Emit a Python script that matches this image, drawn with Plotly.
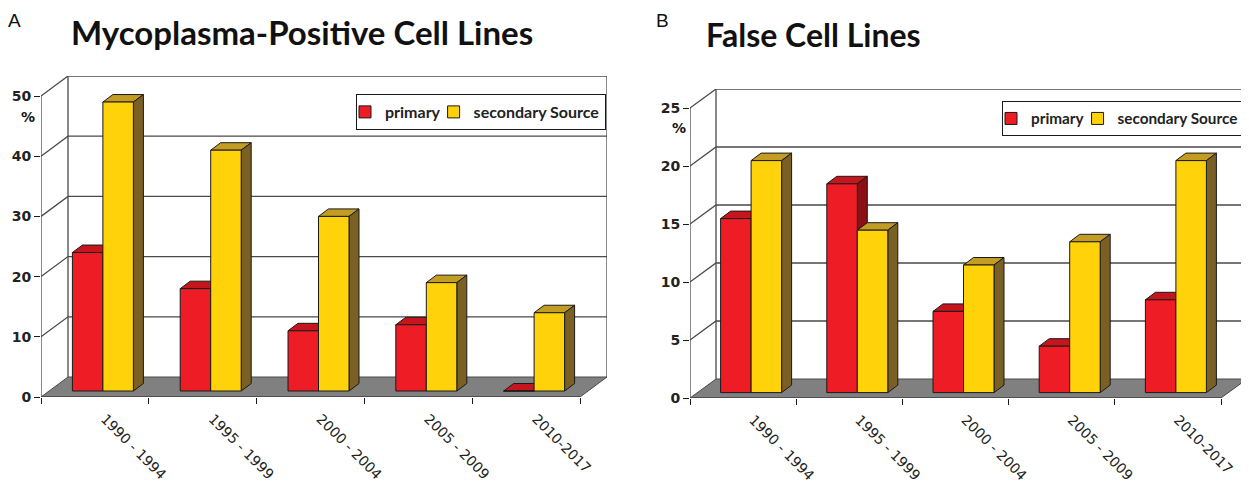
import plotly.graph_objects as go

# The page body has an 8 px margin, so all pixel positions are relative to that corner.
OFF = 8
W, H = 1249 - OFF, 487 - OFF
categories = ["1990 - 1994", "1995 - 1999", "2000 - 2004", "2005 - 2009", "2010-2017"]
a_primary = [23, 17, 10, 11, 0]
a_secondary = [48, 40, 29, 18, 13]
b_primary = [15, 18, 7, 4, 8]
b_secondary = [20, 14, 11, 13, 20]
a_ticks = [0, 10, 20, 30, 40, 50]
b_ticks = [0, 5, 10, 15, 20, 25]

RED, RED_TOP, RED_SIDE = "#ee1c25", "#c4161c", "#8a1015"
YEL, YEL_TOP, YEL_SIDE = "#ffd20a", "#c39c23", "#7b6024"
EDGE = "#1a1a1a"
GRID = "#4a4a4a"
TXT = "#222222"

fig = go.Figure()


def poly(xs, ys, color, xa, ya, z, line=EDGE, width=1):
    fig.add_trace(go.Scatter(x=xs, y=ys, mode="lines", fill="toself", fillcolor=color,
                             line=dict(color=line, width=width), xaxis=xa, yaxis=ya,
                             hoverinfo="skip", showlegend=False, zorder=z))


def segs(xs, ys, color, xa, ya, z, width=1.3):
    fig.add_trace(go.Scatter(x=xs, y=ys, mode="lines", line=dict(color=color, width=width),
                             xaxis=xa, yaxis=ya, hoverinfo="skip", showlegend=False, zorder=z))


def panel(primary, secondary, ticks, xa, ya, legend, px):
    n = len(categories)
    x0, xb, xr, ytop, y0 = px["x0"], px["xb"], px["xr"], px["ytop"], px["y0"]
    unit_x = (px["xf"] - x0) / n
    top_tick = ticks[-1]
    unit_y = (y0 - px["ytick"]) / top_tick
    dx = (xb - x0) / unit_x
    dy = (y0 - px["yfloor"]) / unit_y
    bw = px["bw"] / unit_x
    bx = px["bx"] / unit_x
    base = px["base"] / unit_y
    ddx = 10 / unit_x
    ddy = 7.5 / unit_y
    fig.layout[xa.replace("x", "xaxis")] = dict(
        domain=[(x0 - OFF) / W, (xr - OFF) / W], range=[0, (xr - x0) / unit_x], anchor=ya,
        showgrid=False, zeroline=False, showline=False, tickmode="array", automargin=False,
        tickvals=[i + 0.5 + 10 / unit_x for i in range(n)], ticktext=categories, tickangle=45,
        ticks="", ticklabelstandoff=10, tickfont=dict(family="DejaVu Sans", size=14, color=TXT),
        minor=dict(tickmode="array", tickvals=list(range(n + 1)), ticks="outside", ticklen=6,
                   tickcolor=EDGE, tickwidth=1.3, showgrid=False))
    fig.layout[ya.replace("y", "yaxis")] = dict(
        domain=[1 - (y0 - OFF) / H, 1 - (ytop - OFF) / H], range=[0, (y0 - ytop) / unit_y], anchor=xa,
        showgrid=False, zeroline=False, showline=False, tickmode="array", tickvals=ticks,
        ticks="outside", ticklen=6, tickwidth=1.3, tickcolor=EDGE, automargin=False,
        tickfont=dict(family="DejaVu Sans", size=14, color=TXT, weight="bold"))

    # floor, walls and gridlines
    poly([0, n, n + dx, dx, 0], [0, 0, dy, dy, 0], "#808080", xa, ya, 0, line=GRID)
    gx, gy = [], []
    for t in ticks[1:]:
        gx += [0, dx, n + dx, None]
        gy += [t, t + dy, t + dy, None]
    gx += [dx, dx, None, n + dx, n + dx, None, 0, 0, None, 0, n]
    gy += [dy, top_tick + dy, None, dy, top_tick + dy, None, 0, top_tick, None, 0, 0]
    segs(gx, gy, GRID, xa, ya, 0)

    # bars: the 3D top and side faces follow the same values as the front faces
    for values, left, colors, z, name in (
        (primary, -bw, (RED, RED_TOP, RED_SIDE), 1, "primary"),
        (secondary, 0, (YEL, YEL_TOP, YEL_SIDE), 3, "secondary Source"),
    ):
        for i, v in enumerate(values):
            xl = i + 0.5 + bx + left
            xh = xl + bw
            yt = v + base
            poly([xl, xh, xh + ddx, xl + ddx, xl], [yt, yt, yt + ddy, yt + ddy, yt], colors[1], xa, ya, z)
            poly([xh, xh + ddx, xh + ddx, xh, xh], [base, base + ddy, yt + ddy, yt, base], colors[2], xa, ya, z)
        fig.add_trace(go.Bar(
            x=[i + 0.5 + bx + left + bw / 2 for i in range(n)], y=values, base=base, width=bw,
            name=name, marker=dict(color=colors[0], line=dict(color=EDGE, width=1)),
            xaxis=xa, yaxis=ya, legend=legend, hoverinfo="skip", zorder=z + 1))


panel(a_primary, a_secondary, a_ticks, "x", "y", "legend",
      dict(x0=41, xf=580, xb=68, xr=607, ytop=76, y0=397, ytick=96, yfloor=377, bw=30.5, bx=8, base=6))
panel(b_primary, b_secondary, b_ticks, "x2", "y2", "legend2",
      dict(x0=690, xf=1221, xb=716, xr=1247, ytop=89, y0=398, ytick=108, yfloor=379, bw=30.5, bx=8, base=5.4))


def legend_box(x, y, size):
    return dict(x=(x - OFF) / W, y=1 - (y - OFF) / H, xanchor="left", yanchor="top", orientation="h",
                bgcolor="white", bordercolor=EDGE, borderwidth=1, itemwidth=30, indentation=-12,
                font=dict(family="Lato", size=size, color=TXT, weight="bold"), traceorder="normal")


def label(text, x, y, size, family, weight="normal", anchor="middle"):
    return dict(text=text, x=(x - OFF) / W, y=1 - (y - OFF) / H, xref="paper", yref="paper",
                showarrow=False, xanchor="left", yanchor=anchor,
                font=dict(size=size, family=family, weight=weight, color="#111111"))


fig.update_layout(
    width=W, height=H, margin=dict(l=0, r=0, t=0, b=0), paper_bgcolor="white",
    plot_bgcolor="white", barmode="overlay",
    legend=legend_box(356, 94, 16), legend2=legend_box(1002, 101, 15.3),
    annotations=[
        label("A", 6, 8, 19, "Liberation Sans", anchor="top"),
        label("B", 654, 8, 19, "Liberation Sans", anchor="top"),
        label("Mycoplasma-Positive Cell Lines", 69, 32, 33, "Lato", "bold"),
        label("False Cell Lines", 704, 35, 32, "Lato", "bold"),
        label("%", 19, 117, 14, "DejaVu Sans", "bold"),
        label("%", 670, 128, 14, "DejaVu Sans", "bold"),
    ])
fig.write_html("out.html")
